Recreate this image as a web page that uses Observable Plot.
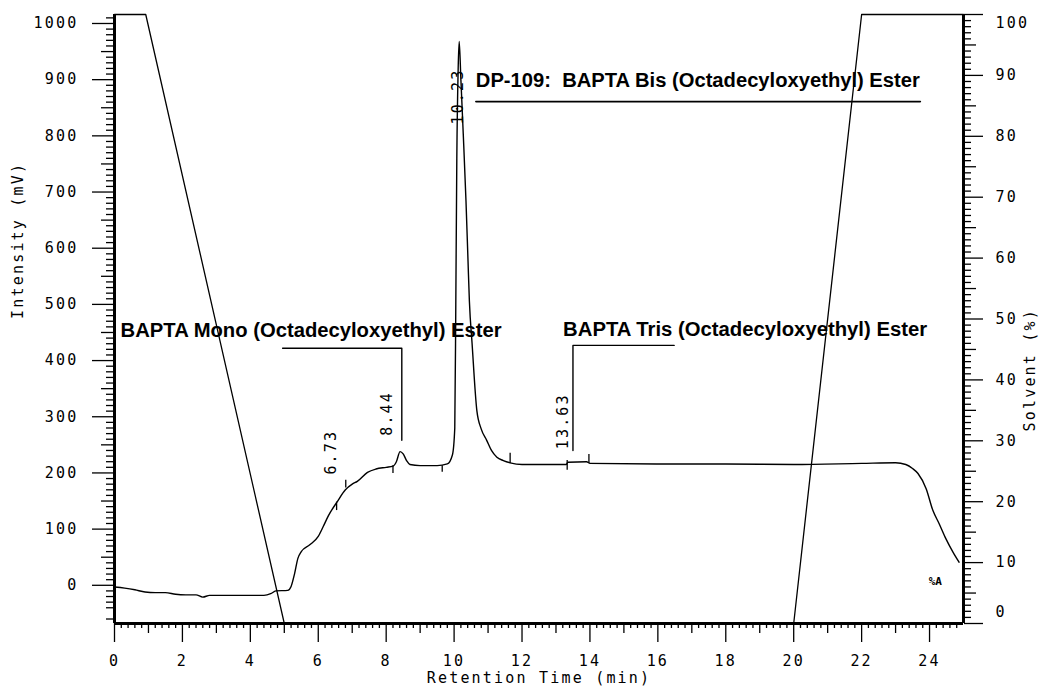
<!DOCTYPE html>
<html>
<head>
<meta charset="utf-8">
<script src="https://cdn.jsdelivr.net/npm/d3@7"></script>
<script src="https://cdn.jsdelivr.net/npm/@observablehq/plot@0.6"></script>
<style>
  html, body { margin: 0; padding: 0; background: #fff; }
</style>
</head>
<body>
<div id="chart"></div>
<script>
// ---- Data ----
// Chromatogram trace: retention time (min) and intensity (mV)
const traceTime = [0, 0.3, 0.6, 0.9, 1.2, 1.5, 1.8, 2.1, 2.4, 2.6, 2.8, 3.2, 3.6, 4.0, 4.4, 4.6, 4.75, 5.1, 5.2, 5.3, 5.4, 5.5, 5.75, 6.0, 6.15, 6.3, 6.55, 6.8, 7.0, 7.15, 7.45, 7.7, 8.0, 8.2, 8.3, 8.41, 8.5, 8.6, 8.7, 9.0, 9.5, 9.8, 9.95, 10.02, 10.05, 10.08, 10.12, 10.15, 10.2, 10.27, 10.35, 10.41, 10.45, 10.53, 10.67, 10.8, 10.96, 11.1, 11.26, 11.45, 11.65, 12.0, 13.3, 13.35, 13.9, 14.0, 16.0, 18.0, 20.0, 22.0, 23.0, 23.3, 23.5, 23.66, 23.9, 24.1, 24.28, 24.48, 24.69, 24.87];
const traceMv   = [-3, -5, -8, -12, -13, -13, -16, -17, -17, -21, -18, -18, -18, -18, -18, -15, -10, -9, -2, 20, 48, 60, 72, 87, 105, 124, 148, 170, 180, 185, 201, 207, 210, 212, 220, 238, 234, 222, 215, 213, 213, 216, 232, 280, 500, 760, 920, 968, 900, 803, 684, 577, 506, 430, 311, 278, 258, 240, 228, 222, 218, 215, 215, 219, 220, 217, 216, 216, 215, 217, 218, 215, 208, 199, 172, 133, 110, 83, 59, 41];

// Solvent gradient: time (min) and solvent (%)
const gradTime = [0, 0.92, 5.0, 20.0, 22.0, 25.0];
const gradPct  = [100, 100, 0, 0, 100, 100];

// Baseline integration markers: time, from mV, to mV
const markTime = [6.54, 6.81, 8.2, 9.65, 11.65, 13.33, 13.97];
const markFrom = [148, 187, 213, 213, 235, 222, 233];
const markTo   = [133, 173, 199, 201, 217, 205, 217];

// Retention time labels (rotated)
const rtText = ["6.73", "8.44", "10.23", "13.63"];
const rtTime = [6.37, 8.02, 10.11, 13.21];
const rtMv   = [237, 306, 870, 292];

// Compound annotations
const compText = ["DP-109:\u00a0 BAPTA Bis (Octadecyloxyethyl) Ester", "BAPTA Mono (Octadecyloxyethyl) Ester", "BAPTA Tris (Octadecyloxyethyl) Ester"];
const compTime = [10.64, 0.18, 13.21];
const compMv   = [899, 454, 455];

// Annotation leader lines
const dpUnderline = {t: [10.64, 23.73], mv: [861, 861]};
const monoBracket = {t: [4.95, 8.46, 8.46], mv: [422, 422, 258]};
const trisBracket = {t: [16.48, 13.50, 13.50], mv: [427, 427, 240]};

// Axis ticks
const xMajor = [0, 2, 4, 6, 8, 10, 12, 14, 16, 18, 20, 22, 24];
const yMajor = [0, 100, 200, 300, 400, 500, 600, 700, 800, 900, 1000];
const pctMajor = [0, 10, 20, 30, 40, 50, 60, 70, 80, 90, 100];

// Scale domains
const xDomain = [0, 25];
const yDomain = [-68, 1016];

// ---- Build ----
const toMv = p => yDomain[0] + p * (yDomain[1] - yDomain[0]) / 100;

const trace = traceTime.map((t, i) => ({t, mv: traceMv[i]}));
const gradient = gradTime.map((t, i) => ({t, mv: toMv(gradPct[i])}));
const markers = markTime.map((t, i) => ({t, a: markFrom[i], b: markTo[i]}));
const rtLabels = rtText.map((s, i) => ({s, t: rtTime[i], mv: rtMv[i]}));
const comps = compText.map((s, i) => ({s, t: compTime[i], mv: compMv[i]}));
const toPts = o => o.t.map((t, i) => ({t, mv: o.mv[i]}));

const xMid = d3.range(1, 25, 2);
const xMinor = d3.range(0, 125).map(i => i / 5).filter(v => Math.abs(v - Math.round(v)) > 1e-6);
const yMid = d3.range(50, 1001, 100);
const yMinor = d3.range(-60, 1011, 10).filter(v => v % 50 !== 0);
const pctMid = d3.range(5, 100, 10);
const pctMinor = d3.range(1, 100).filter(v => v % 5 !== 0);

const blank = () => "";

const plot = Plot.plot({
  width: 1043,
  height: 686,
  marginLeft: 114,
  marginRight: 80,
  marginTop: 14,
  marginBottom: 63,
  x: {domain: xDomain, label: null},
  y: {domain: yDomain, label: null},
  style: {fontFamily: "'DejaVu Sans Mono', monospace", fontSize: "15px", color: "#000", background: "#fff", overflow: "visible"},
  marks: [
    // left axis (Intensity)
    Plot.axisY({anchor: "left", ticks: yMajor, tickSize: 22, tickPadding: 14, tickFormat: d => String(d), strokeWidth: 1.3, label: null}),
    Plot.axisY({anchor: "left", ticks: yMid, tickSize: 13, tickFormat: blank, strokeWidth: 1.3, label: null}),
    Plot.axisY({anchor: "left", ticks: yMinor, tickSize: 8, tickFormat: blank, strokeWidth: 1.3, label: null}),
    // bottom axis
    Plot.axisX({anchor: "bottom", ticks: xMajor, tickSize: 19, tickPadding: 13, tickFormat: d => String(d), strokeWidth: 1.3, label: null}),
    Plot.axisX({anchor: "bottom", ticks: xMid, tickSize: 10, tickFormat: blank, strokeWidth: 1.3, label: null}),
    Plot.axisX({anchor: "bottom", ticks: xMinor, tickSize: 5, tickFormat: blank, strokeWidth: 1.3, label: null}),
    // right axis (Solvent %)
    Plot.axisY({anchor: "right", ticks: pctMajor.map(toMv), tickSize: 19, tickFormat: blank, strokeWidth: 1.3, label: null}),
    Plot.axisY({anchor: "right", ticks: pctMid.map(toMv), tickSize: 12, tickFormat: blank, strokeWidth: 1.3, label: null}),
    Plot.axisY({anchor: "right", ticks: pctMinor.map(toMv), tickSize: 7, tickFormat: blank, strokeWidth: 1.3, label: null}),
    Plot.text(pctMajor.filter(p => p > 0 && p < 100), {y: p => toMv(p), text: p => String(p), frameAnchor: "right", textAnchor: "start", dx: 32}),
    Plot.text(pctMajor.filter(p => p === 100), {y: p => toMv(p), text: p => String(p), frameAnchor: "right", textAnchor: "start", dx: 32, dy: 9}),
    Plot.text(pctMajor.filter(p => p === 0), {y: p => toMv(p), text: p => String(p), frameAnchor: "right", textAnchor: "start", dx: 32, dy: -11}),
    // axis titles
    Plot.text(["Intensity (mV)"], {text: d => d, frameAnchor: "left", rotate: -90, dx: -96}),
    Plot.text(["Solvent (%)"], {text: d => d, frameAnchor: "right", rotate: -90, dx: 67, dy: -11}),
    Plot.text(["Retention Time (min)"], {text: d => d, frameAnchor: "bottom", lineAnchor: "middle", dy: 55}),
    // frame (left, bottom, right)
    Plot.ruleX(xDomain, {stroke: "#000", strokeWidth: 3}),
    Plot.ruleY([yDomain[0]], {stroke: "#000", strokeWidth: 3}),
    // solvent gradient
    Plot.line(gradient, {x: "t", y: "mv", stroke: "#000", strokeWidth: 1.3}),
    // chromatogram
    Plot.line(trace, {x: "t", y: "mv", stroke: "#000", strokeWidth: 1.4, curve: "monotone-x"}),
    // baseline markers
    Plot.ruleX(markers, {x: "t", y1: "a", y2: "b", stroke: "#000", strokeWidth: 1.3}),
    // annotation lines
    Plot.line(toPts(dpUnderline), {x: "t", y: "mv", stroke: "#000", strokeWidth: 1.6}),
    Plot.line(toPts(monoBracket), {x: "t", y: "mv", stroke: "#000", strokeWidth: 1.4}),
    Plot.line(toPts(trisBracket), {x: "t", y: "mv", stroke: "#000", strokeWidth: 1.4}),
    // retention time labels
    Plot.text(rtLabels, {x: "t", y: "mv", text: "s", rotate: -90, fontSize: 15}),
    // compound labels
    Plot.text(comps, {x: "t", y: "mv", text: "s", textAnchor: "start", fontFamily: "'Liberation Sans', Arial, sans-serif", fontWeight: "bold", fontSize: 20}),
    // %A marker
    Plot.text(["%A"], {x: () => 24.17, y: () => 7, text: d => d, fontSize: 11, fontWeight: "bold"})
  ]
});

// typographic touches: letter spacing for mono text, fitted widths for bold labels
const svg = d3.select(plot);
svg.selectAll("text").style("letter-spacing", "2.2px");
const fitWidths = new Map([[compText[0], 444], [compText[1], 381], [compText[2], 364]]);
svg.selectAll("text").each(function () {
  const w = fitWidths.get(this.textContent);
  if (w) {
    d3.select(this).style("letter-spacing", "0px").attr("textLength", w).attr("lengthAdjust", "spacingAndGlyphs");
  }
  if (this.textContent === "%A") d3.select(this).style("letter-spacing", "0px");
});

document.getElementById("chart").appendChild(plot);
</script>
</body>
</html>
